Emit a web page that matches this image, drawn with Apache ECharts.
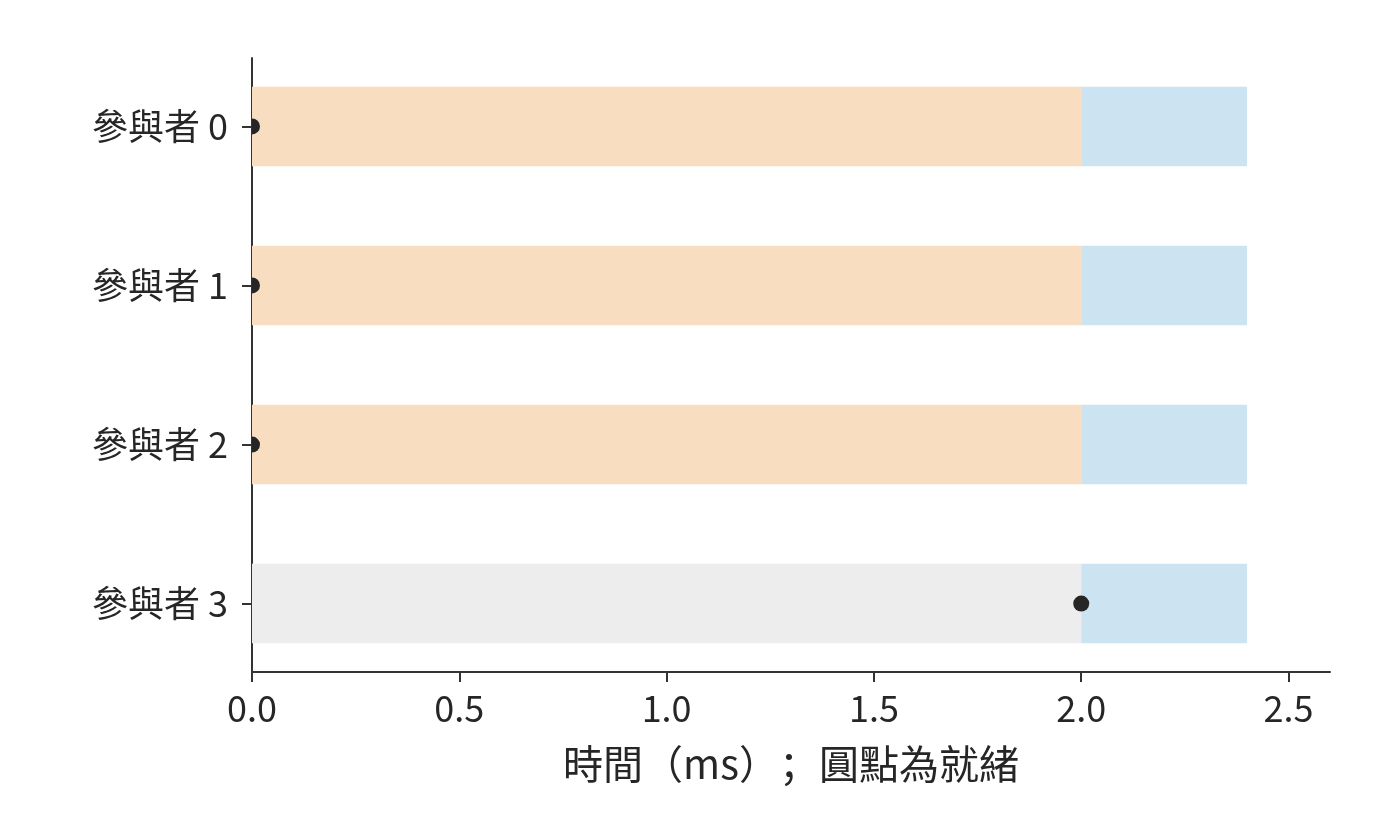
<!DOCTYPE html>
<html>
<head>
<meta charset="utf-8">
<script src="https://cdn.jsdelivr.net/npm/echarts@6/dist/echarts.min.js"></script>
<style>
html,body{margin:0;padding:0;background:#fff;}
#main{width:1400px;height:840px;}
</style>
</head>
<body>
<div id="main"></div>
<script>
// ---- data ----
const categories = ['參與者 0', '參與者 1', '參與者 2', '參與者 3'];
const phase1Start = [0, 0, 0, 0];
const phase1End = [2.0, 2.0, 2.0, 2.0];
const phase1Kind = ['wait', 'wait', 'wait', 'idle'];
const phase2End = [2.4, 2.4, 2.4, 2.4];
const readyTime = [0, 0, 0, 2.0];
const xTicks = [0, 0.5, 1.0, 1.5, 2.0, 2.5];
const yTicks = [0, 1, 2, 3];

// ---- styles ----
const FONT = '"Noto Sans CJK SC", "Noto Sans CJK TC", sans-serif';
const kindColor = { wait: '#f8ddc0', idle: '#ededed', run: '#cce3f2' };
const axisColor = '#333333';
const textColor = '#262626';

const barData = [];
categories.forEach((c, i) => {
  barData.push([i, phase1Start[i], phase1End[i], phase1Kind[i]]);
  barData.push([i, phase1End[i], phase2End[i], 'run']);
});
const dotData = categories.map((c, i) => [readyTime[i], i]);

const chart = echarts.init(document.getElementById('main'), null, { renderer: 'canvas' });
chart.setOption({
  animation: false,
  backgroundColor: '#ffffff',
  grid: { left: 252, right: 70, top: 58, bottom: 168, containLabel: false },
  xAxis: {
    type: 'value', min: 0, max: 2.6,
    name: '時間（ms）；圓點為就緒', nameLocation: 'middle', nameGap: 72,
    nameTextStyle: { fontFamily: FONT, fontSize: 40, color: textColor },
    axisLine: { show: true, onZero: false, lineStyle: { color: axisColor, width: 2 } },
    axisTick: { show: true, length: 10, lineStyle: { color: axisColor, width: 2 }, customValues: xTicks },
    axisLabel: { fontFamily: FONT, fontSize: 36, color: textColor, margin: 18,
      customValues: xTicks, formatter: v => v.toFixed(1) },
    splitLine: { show: false }
  },
  yAxis: {
    type: 'value', inverse: true, min: -0.43, max: 3.43,
    axisLine: { show: true, onZero: false, lineStyle: { color: axisColor, width: 2 } },
    axisTick: { show: true, length: 10, lineStyle: { color: axisColor, width: 2 }, customValues: yTicks },
    axisLabel: { fontFamily: FONT, fontSize: 36, color: textColor, margin: 24,
      customValues: yTicks, formatter: v => categories[Math.round(v)] },
    splitLine: { show: false }
  },
  series: [
    {
      type: 'custom',
      clip: true,
      z: 1,
      encode: { x: [1, 2], y: 0 },
      data: barData,
      renderItem: function (params, api) {
        const y = api.value(0);
        const s = api.value(1);
        const e = api.value(2);
        const kind = barData[params.dataIndex][3];
        const p0 = api.coord([s, y - 0.25]);
        const p1 = api.coord([e, y + 0.25]);
        return {
          type: 'rect',
          shape: { x: p0[0], y: Math.min(p0[1], p1[1]), width: p1[0] - p0[0], height: Math.abs(p1[1] - p0[1]) },
          style: { fill: kindColor[kind] }
        };
      }
    },
    {
      type: 'custom',
      clip: true,
      z: 5,
      encode: { x: 0, y: 1 },
      data: dotData,
      renderItem: function (params, api) {
        const p = api.coord([api.value(0), api.value(1)]);
        return { type: 'circle', shape: { cx: p[0], cy: p[1], r: 8 }, style: { fill: '#262626' } };
      }
    }
  ]
});
</script>
</body>
</html>
